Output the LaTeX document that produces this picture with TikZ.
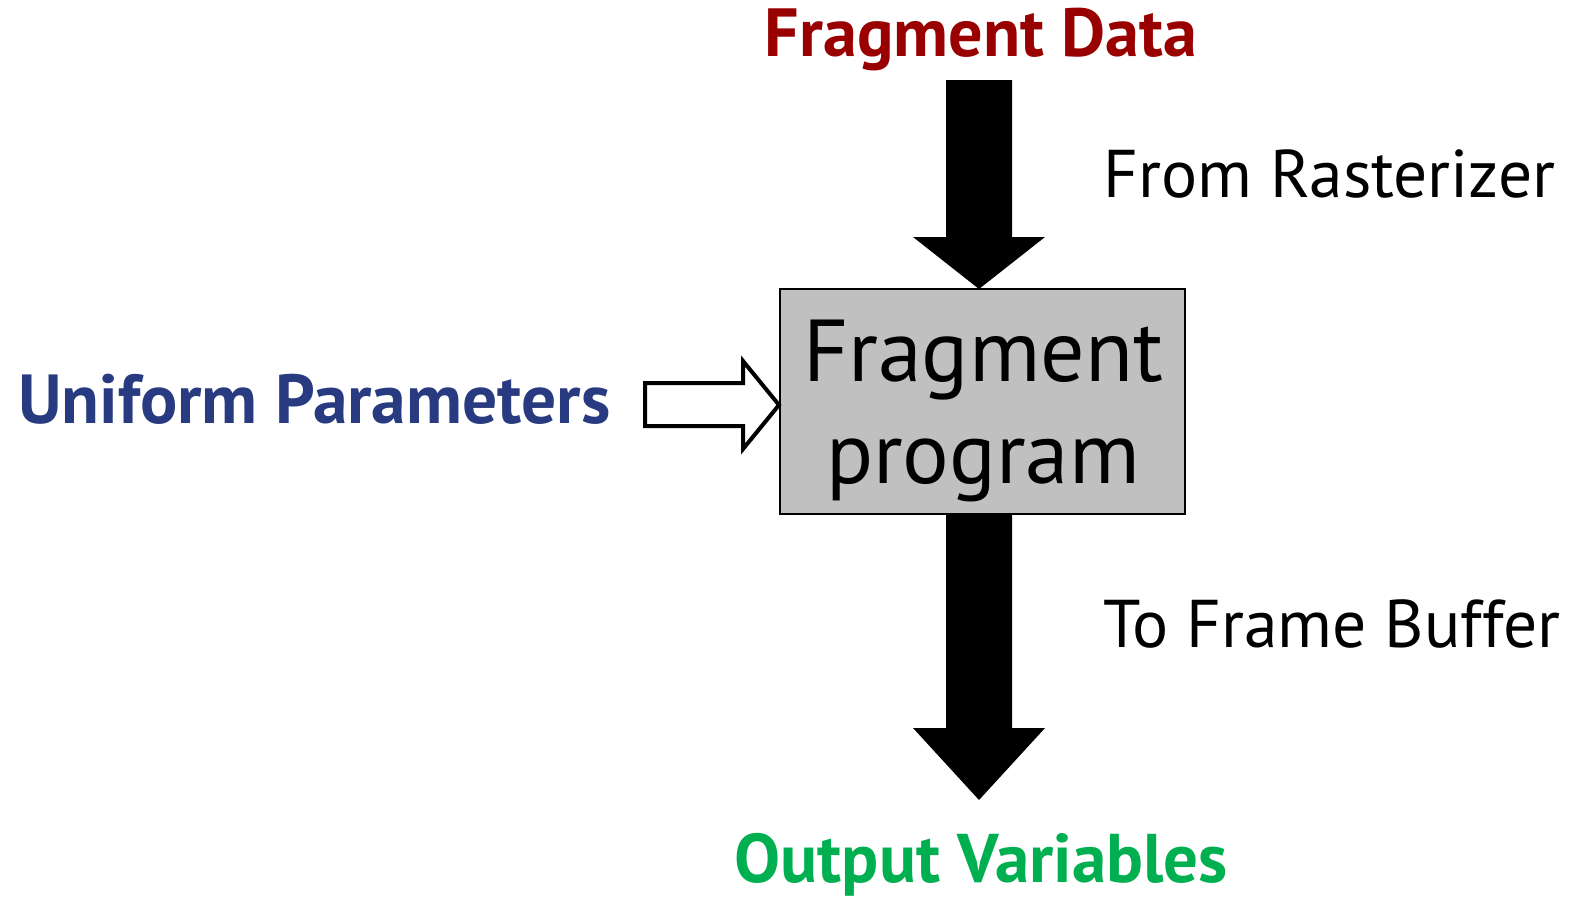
\documentclass[tikz,border=0pt]{standalone}
\usepackage{fontspec}
\setmainfont{PT Sans}
\usetikzlibrary{calc}
\definecolor{fragred}{HTML}{990000}
\definecolor{unifblue}{HTML}{283A80}
\definecolor{outgreen}{HTML}{00B050}
\definecolor{boxgray}{HTML}{C0C0C0}
\newcommand{\fitw}[2]{\resizebox{#1pt}{!}{#2}}
\begin{document}
\begin{tikzpicture}[x=1pt,y=-1pt,
  lbl/.style={inner sep=0pt, anchor=base, font=\fontsize{60}{72}\selectfont},
  bigarrow/.style={fill=black, draw=none},
  openarrow/.style={fill=white, draw=black, line width=4pt, line join=miter},
  progbox/.style={draw=black, line width=2pt, fill=boxgray, minimum width=405pt, minimum height=225pt, inner sep=0pt}]
\useasboundingbox (0,0) rectangle (1569,900);
\node[progbox] (prog) at (982.5,401.5) {};
\node[lbl, font=\fontsize{88}{100}\selectfont] (t1) at (983,381) {\fitw{360}{Fragment}};
\node[lbl, font=\fontsize{88}{100}\selectfont] (t2) at (983,483) {\fitw{314}{program}};
\node[lbl, text=fragred] (fd) at (981,56) {\fitw{432}{\bfseries Fragment Data}};
\node[lbl, anchor=base west] (fr) at (1103,197) {\fitw{452}{From Rasterizer}};
\node[lbl, anchor=base west, text=unifblue] (up) at (18,423) {\fitw{592}{\bfseries Uniform Parameters}};
\node[lbl, anchor=base west] (tf) at (1103,647) {\fitw{457}{To Frame Buffer}};
\node[lbl, text=outgreen] (ov) at (981,882) {\fitw{493}{\bfseries Output Variables}};
\coordinate (intip) at (979,289);
\coordinate (outtip) at (979,800);
\coordinate (uptip) at (779,405);
\fill[bigarrow] (946,80) -- (1012,80) -- (1012,237) -- (1045,237) -- (intip) -- (913,237) -- (946,237) -- cycle;
\fill[bigarrow] (946,515) -- (1012,515) -- (1012,728) -- (1045,728) -- (outtip) -- (913,728) -- (946,728) -- cycle;
\draw[openarrow] (645,383) -- (743,383) -- (743,361) -- (uptip) -- (743,449) -- (743,426) -- (645,426) -- cycle;
\end{tikzpicture}
\end{document}
